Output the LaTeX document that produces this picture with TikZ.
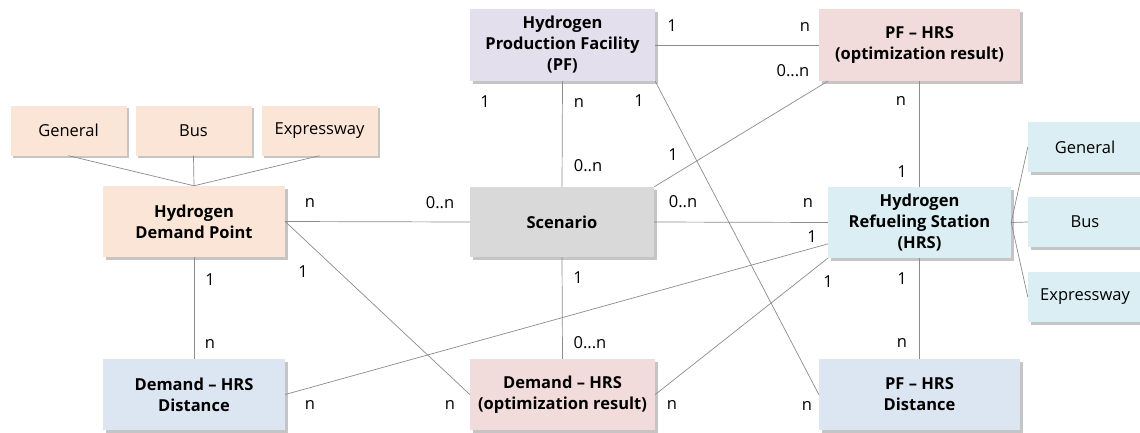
\documentclass[tikz,border=0pt]{standalone}
\usepackage{fontspec}
\setmainfont{Open Sans}
\usetikzlibrary{shadows,calc}
\definecolor{peach}{HTML}{FBE5D6}
\definecolor{lav}{HTML}{E4DFEC}
\definecolor{scg}{HTML}{D9D9D9}
\definecolor{pinkb}{HTML}{F2DCDB}
\definecolor{lblue}{HTML}{DAEEF3}
\definecolor{bgray}{HTML}{DCE6F2}
\definecolor{linec}{HTML}{8C8C8C}
\begin{document}
\begin{tikzpicture}[x=1pt,y=-1pt,
  box/.style={rectangle, draw=none, align=center, inner sep=0pt,
    font=\fontsize{16.5}{21}\selectfont\bfseries,
    drop shadow={shadow xshift=2.5pt,shadow yshift=-2.5pt,fill=black!45,opacity=0.5}},
  sub/.style={box, font=\fontsize{16.5}{21}\selectfont, minimum width=116pt, minimum height=50pt},
  link/.style={draw=linec, line width=0.7pt},
  lab/.style={font=\fontsize{16.5}{18}\selectfont, inner sep=0pt}]
\clip (0,0) rectangle (1140,432);
\fill[white] (0,0) rectangle (1140,432);
% left sub boxes
\node[sub, fill=peach] (g1) at (68.5,130.5) {General};
\node[sub, fill=peach] (b1) at (193.5,130.5) {Bus};
\node[sub, fill=peach] (e1) at (319.5,130.5) {Expressway};
% main boxes
\node[box, fill=peach, minimum width=182pt, minimum height=71pt] (dp) at (194,221.5) {Hydrogen\\Demand Point};
\node[box, fill=bgray, minimum width=182pt, minimum height=71pt] (dist) at (194,394.5) {Demand \textendash{} HRS\\Distance};
\node[box, fill=lav, minimum width=185pt, minimum height=72pt] (pf) at (562.5,45) {Hydrogen\\Production Facility\\(PF)};
\node[box, fill=scg, minimum width=184pt, minimum height=70pt] (scen) at (562,222) {Scenario};
\node[box, fill=pinkb, minimum width=185pt, minimum height=71pt] (opt) at (562.5,394.5) {Demand \textendash{} HRS\\(optimization result)};
\node[box, fill=pinkb, minimum width=201pt, minimum height=72pt] (pfo) at (919.5,45) {PF \textendash{} HRS\\(optimization result)};
\node[box, fill=lblue, minimum width=183pt, minimum height=71pt] (hrs) at (919.5,222.5) {Hydrogen\\Refueling Station\\(HRS)};
\node[box, fill=bgray, minimum width=201pt, minimum height=71pt] (pfd) at (919.5,394.5) {PF \textendash{} HRS\\Distance};
% right sub boxes
\node[sub, fill=lblue, minimum width=114pt] (g2) at (1085,147) {General};
\node[sub, fill=lblue, minimum width=114pt] (b2) at (1085,222) {Bus};
\node[sub, fill=lblue, minimum width=114pt] (e2) at (1085,297) {Expressway};
% connectors
\draw[link] (g1.south) -- (dp.north);
\draw[link] (b1.south) -- (dp.north);
\draw[link] (e1.south) -- (dp.north);
\draw[link] (dp.south) -- (dist.north);
\draw[link] (dp.east) -- (scen.west);
\draw[link] (dp.east) -- (opt.west);
\draw[link] (pf.south) -- (scen.north);
\draw[link] (scen.south) -- (opt.north);
\draw[link] (pf.east) -- (pfo.west);
\draw[link] (pf.south east) -- (pfd.west);
\draw[link] (scen.north east) -- ($(pfo.south west)+(9,0)$);
\draw[link] (scen.east) -- (hrs.west);
\draw[link] (pfo.south) -- (hrs.north);
\draw[link] (hrs.south) -- (pfd.north);
\draw[link] (dist.east) -- ($(hrs.south west)!0.2!(hrs.north west)$);
\draw[link] (opt.east) -- (hrs.south west);
\draw[link] (hrs.east) -- (g2.west);
\draw[link] (hrs.east) -- (b2.west);
\draw[link] (hrs.east) -- (e2.west);
% cardinality labels
\node[lab] (l1) at (310,203) {n};
\node[lab] (l2) at (440,203) {0..n};
\node[lab] (l3) at (210,280) {1};
\node[lab] (l4) at (210,344) {n};
\node[lab] (l5) at (303,272) {1};
\node[lab] (l6) at (310,405) {n};
\node[lab] (l7) at (485,102) {1};
\node[lab] (l8) at (579,103) {n};
\node[lab] (l9) at (639,101) {1};
\node[lab] (l10) at (588,166) {0..n};
\node[lab] (l11) at (673,155) {1};
\node[lab] (l12) at (683,202) {0..n};
\node[lab] (l13) at (578,278) {1};
\node[lab] (l14) at (590,343) {0...n};
\node[lab] (l15) at (450,405) {n};
\node[lab] (l16) at (672,405) {n};
\node[lab] (l17) at (672,26) {1};
\node[lab] (l18) at (805,27) {n};
\node[lab] (l19) at (793,71) {0...n};
\node[lab] (l20) at (901,101) {n};
\node[lab] (l21) at (902,172) {1};
\node[lab] (l22) at (808,203) {n};
\node[lab] (l23) at (812,237) {1};
\node[lab] (l24) at (828,282) {1};
\node[lab] (l25) at (902,279) {1};
\node[lab] (l26) at (902,343) {n};
\node[lab] (l27) at (807,406) {n};
\end{tikzpicture}
\end{document}
